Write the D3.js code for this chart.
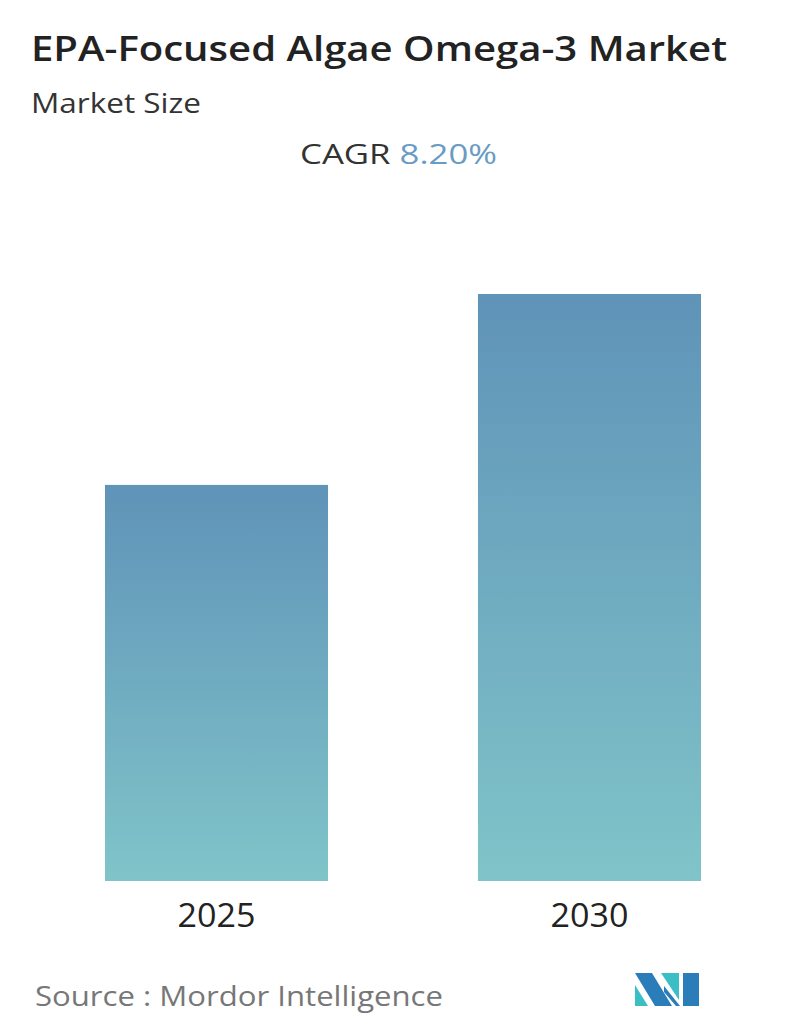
<!DOCTYPE html>
<html><head><meta charset="utf-8">
<script src="https://cdn.jsdelivr.net/npm/d3@7"></script>
<style>body{margin:0;background:#fff}</style></head>
<body><svg id="c" width="796" height="1034"></svg>
<script>
const categories = ["2025","2030"];
const values = [1.0, 1.482];
const svg = d3.select("#c");
const F = "'Open Sans', sans-serif";
const defs = svg.append("defs");
const g = defs.append("linearGradient").attr("id","bg").attr("x1",0).attr("y1",0).attr("x2",0).attr("y2",1);
g.append("stop").attr("offset","0%").attr("stop-color","#5f93b8");
g.append("stop").attr("offset","100%").attr("stop-color","#80c4c9");

function t(x,y,size,fill,txt,len,w){
  return svg.append("text").attr("x",x).attr("y",y).attr("font-family",F).attr("font-size",size)
   .attr("font-weight",w||400).attr("fill",fill).attr("textLength",len).attr("lengthAdjust","spacingAndGlyphs").text(txt);
}
t(31,61,34,"#222","EPA-Focused Algae Omega-3 Market",696,600);
t(31,113,28,"#333","Market Size",170);
const cg = svg.append("text").attr("x",300).attr("y",164).attr("font-family",F).attr("font-size",28)
  .attr("textLength",197).attr("lengthAdjust","spacingAndGlyphs");
cg.append("tspan").attr("fill","#333").text("CAGR ");
cg.append("tspan").attr("fill","#6a9bc3").text("8.20%");

const x = d3.scaleBand().domain(categories).range([105,701]).paddingInner(0.402).paddingOuter(0);
const y = d3.scaleLinear().domain([0,1.482]).range([881,294]);
svg.selectAll("rect.b").data(values).enter().append("rect")
  .attr("x",(d,i)=>x(categories[i])).attr("width",x.bandwidth())
  .attr("y",d=>y(d)).attr("height",d=>881-y(d)).attr("fill","url(#bg)");
svg.selectAll("text.l").data(categories).enter().append("text")
  .attr("x",d=>x(d)+x.bandwidth()/2).attr("y",927).attr("text-anchor","middle")
  .attr("font-family",F).attr("font-size",33).attr("fill","#222")
  .attr("textLength",78).attr("lengthAdjust","spacingAndGlyphs").text(d=>d);
t(35,1006,28,"#777","Source :  Mordor Intelligence",408);
const lg = svg.append("g");
lg.append("polygon").attr("points","635,973 652,973 672,1006 655,1006").attr("fill","#2a7db8");
lg.append("polygon").attr("points","635,985 648,1006 635,1006").attr("fill","#3bbfc6");
lg.append("polygon").attr("points","661,973 679,973 679,1000").attr("fill","#3bbfc6");
lg.append("polygon").attr("points","683,973 699,973 699,1006 683,1006").attr("fill","#2a7db8");
lg.append("polygon").attr("points","664,986 680,1006 676,1006 664,992").attr("fill","#2a7db8");
</script></body></html>
